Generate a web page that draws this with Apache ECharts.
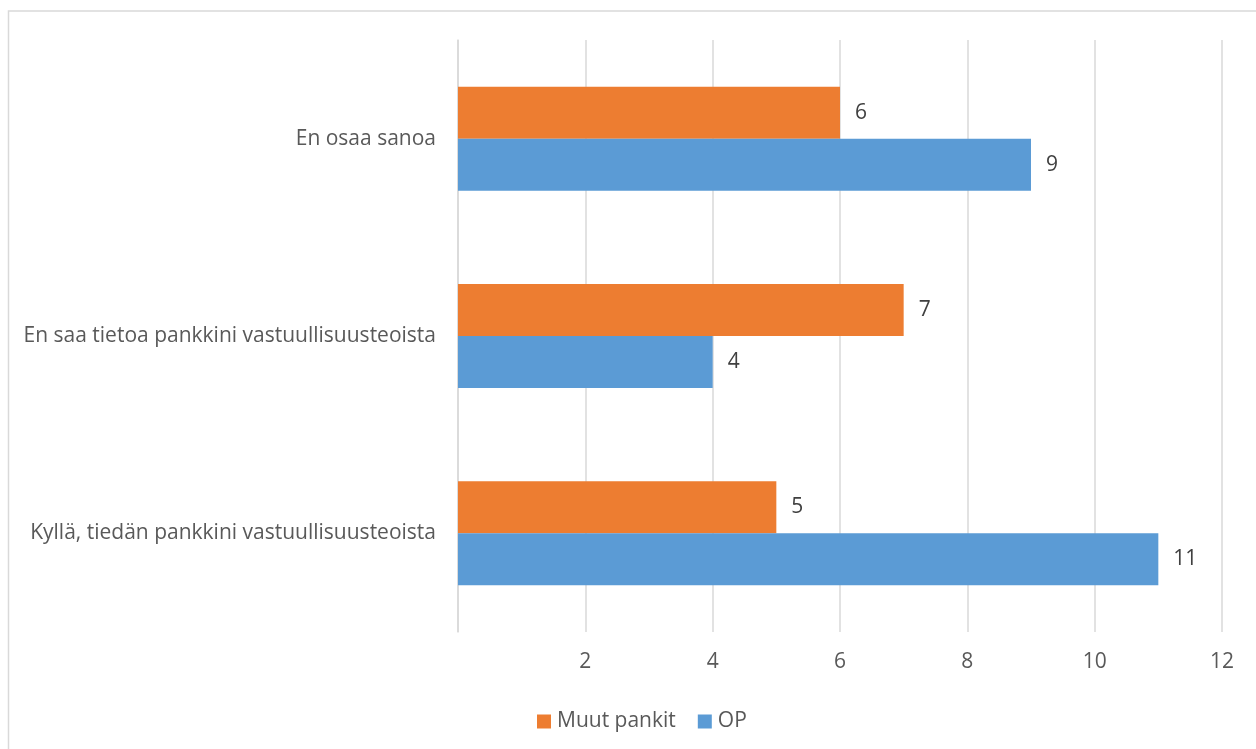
<!DOCTYPE html>
<html>
<head>
<meta charset="utf-8">
<script src="https://cdn.jsdelivr.net/npm/echarts@6/dist/echarts.min.js"></script>
<style>
  html, body { margin: 0; padding: 0; background: #fff; }
  #chart { width: 1256px; height: 749px; }
</style>
</head>
<body>
<div id="chart"></div>
<script>
// Survey answers, listed bottom to top as the category axis draws them
const categories = [
  'Kyllä, tiedän pankkini vastuullisuusteoista',
  'En saa tietoa pankkini vastuullisuusteoista',
  'En osaa sanoa'
];
const seriesNames = ['Muut pankit', 'OP'];
const muutPankit = [5, 7, 6];
const op = [11, 4, 9];
const xTicks = { min: 0, max: 12, step: 2 };

const FONT = '"Open Sans", "Noto Sans", sans-serif';
const FONT_SIZE = 21;
const chart = echarts.init(document.getElementById('chart'), null, { renderer: 'canvas' });

const labelStyle = {
  show: true,
  position: 'right',
  distance: 15,
  color: '#404040',
  fontSize: FONT_SIZE,
  fontFamily: FONT
};

chart.setOption({
  animation: false,
  textStyle: { fontFamily: FONT },
  graphic: [{
    type: 'rect',
    shape: { x: 8.5, y: 11, width: 1400, height: 900 },
    style: { fill: 'none', stroke: '#d9d9d9', lineWidth: 1.5 },
    silent: true,
    z: -10
  }],
  grid: { left: 458, right: 34, top: 40, bottom: 117, containLabel: false },
  legend: {
    data: seriesNames,
    left: 532,
    top: 706,
    itemWidth: 14,
    itemHeight: 14,
    itemGap: 22,
    icon: 'rect',
    textStyle: { color: '#595959', fontSize: FONT_SIZE, fontFamily: FONT, padding: [0, 0, 0, 1] }
  },
  xAxis: {
    type: 'value',
    min: xTicks.min,
    max: xTicks.max,
    interval: xTicks.step,
    axisLine: { show: false },
    axisTick: { show: false },
    splitLine: { show: true, lineStyle: { color: '#d9d9d9', width: 1.5 } },
    axisLabel: {
      color: '#595959',
      fontSize: FONT_SIZE,
      fontFamily: FONT,
      margin: 20,
      formatter: v => (v === 0 ? '' : String(v))
    }
  },
  yAxis: {
    type: 'category',
    data: categories,
    axisLine: { show: true, lineStyle: { color: '#d9d9d9', width: 1.5 } },
    axisTick: { show: false },
    axisLabel: { color: '#595959', fontSize: FONT_SIZE, fontFamily: FONT, margin: 22 }
  },
  series: [
    {
      name: 'Muut pankit',
      type: 'bar',
      data: muutPankit,
      barWidth: 52,
      barGap: '0%',
      itemStyle: { color: '#ed7d31' },
      label: labelStyle
    },
    {
      name: 'OP',
      type: 'bar',
      data: op,
      barWidth: 52,
      barGap: '0%',
      itemStyle: { color: '#5b9bd5' },
      label: labelStyle
    }
  ]
});
</script>
</body>
</html>
